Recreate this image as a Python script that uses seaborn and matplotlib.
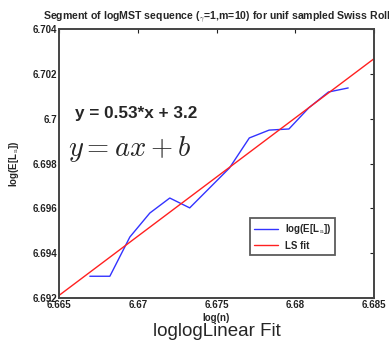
import numpy as np
import pandas as pd
import matplotlib
matplotlib.use("Agg")
import matplotlib.pyplot as plt
import seaborn as sns

# Sample sizes of the segment and the mean log-MST length at each
n_values = [786, 787, 788, 789, 790, 791, 792, 793, 794, 795, 796, 797, 798, 799]
log_mean_len = [6.69297, 6.69297, 6.69472, 6.69579, 6.69646, 6.69602, 6.69691,
                6.69780, 6.69914, 6.69949, 6.69954, 6.70048, 6.70119, 6.70137]

x_ticks = [6.665, 6.67, 6.675, 6.68, 6.685]
x_tick_labels = ["6.665", "6.67", "6.675", "6.68", "6.685"]
y_ticks = [6.692, 6.694, 6.696, 6.698, 6.700, 6.702, 6.704]
y_tick_labels = ["6.692", "6.694", "6.696", "6.698", "6.7", "6.702", "6.704"]
fit_label = "y = 0.53*x + 3.2"

sns.set_style("white")
plt.rcParams["font.family"] = ["Liberation Sans", "DejaVu Sans"]
plt.rcParams["mathtext.fontset"] = "cm"

log_n = np.log(np.array(n_values, dtype=float))
df = pd.DataFrame({"log_n": log_n, "log_len": log_mean_len})

# least-squares line over the full x range
slope, intercept = np.polyfit(log_n, np.array(log_mean_len), 1)
fit_x = np.array([x_ticks[0], x_ticks[-1]])
fit_df = pd.DataFrame({"log_n": fit_x, "log_len": slope * fit_x + intercept})

fig = plt.figure(figsize=(3.89, 3.42), dpi=100)
ax = fig.add_axes([59 / 389, 44 / 342, 315 / 389, 269 / 342])

sns.lineplot(data=df, x="log_n", y="log_len", ax=ax, color="#3333ff",
             linewidth=1.0, label=r"log(E[L$_{\rm n}$])")
sns.lineplot(data=fit_df, x="log_n", y="log_len", ax=ax, color="#ff2020",
             linewidth=1.0, label="LS fit")

ax.set_xlim(x_ticks[0], x_ticks[-1])
ax.set_ylim(y_ticks[0], y_ticks[-1])
ax.set_xticks(x_ticks)
ax.set_xticklabels(x_tick_labels, fontsize=7, fontweight="bold")
ax.set_yticks(y_ticks)
ax.set_yticklabels(y_tick_labels, fontsize=7, fontweight="bold")
ax.tick_params(direction="in", length=3, width=0.8, top=True, right=True,
               pad=1.5, colors="#222222")
for sp in ax.spines.values():
    sp.set_color("#444444")
    sp.set_linewidth(1.4)

ax.set_xlabel("log(n)", fontsize=7, fontweight="bold", labelpad=2)
ax.set_ylabel(r"log(E[L$_{\rm n}$])", fontsize=7, fontweight="bold", labelpad=8)
ax.set_title(r"Segment of logMST sequence ($_\gamma$=1,m=10) for unif sampled Swiss Roll",
             fontsize=7.6, fontweight="bold", pad=7)

ax.text(0.05, 0.685, fit_label, transform=ax.transAxes, fontsize=12.3,
        fontweight="bold", va="center", ha="left")
ax.text(0.03, 0.555, r"$y = ax + b$", transform=ax.transAxes, fontsize=20.5,
        va="center", ha="left")

leg = ax.legend(loc="lower left", bbox_to_anchor=(191 / 315, 43 / 269),
                borderaxespad=0.0,
                prop={"size": 7, "weight": "bold"}, frameon=True,
                fancybox=False, handlelength=2.4, handletextpad=0.7,
                borderpad=0.45, labelspacing=0.45)
leg.get_frame().set_edgecolor("#333333")
leg.get_frame().set_linewidth(1.3)

fig.text(217 / 389, 1 - 332 / 342, "loglogLinear Fit", fontsize=13.5,
         ha="center", va="center")

fig.savefig("out.png", dpi=100)
